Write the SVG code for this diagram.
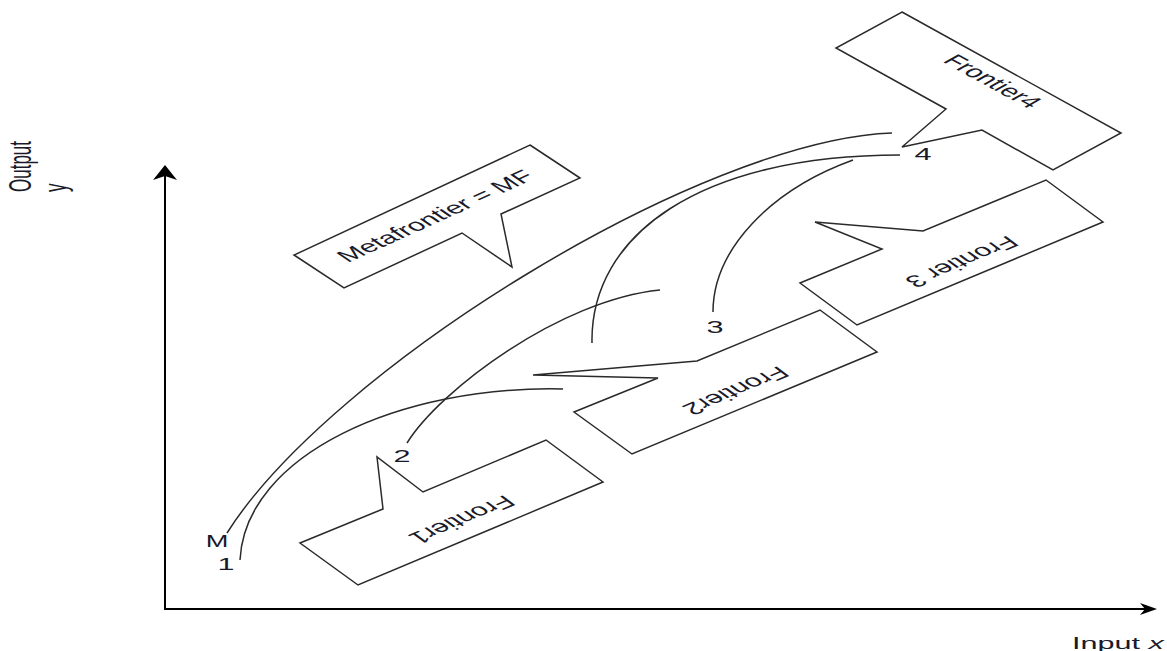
<svg xmlns="http://www.w3.org/2000/svg" width="1167" height="651" viewBox="0 0 1167 651">
<style>
.shape{fill:#fff;stroke:#2a2a2a;stroke-width:1.5;stroke-linejoin:miter}
.curve{fill:none;stroke:#2a2a2a;stroke-width:1.5}
.axis{fill:none;stroke:#000;stroke-width:2}
.head{fill:#000;stroke:none}
text{font-family:"Liberation Sans",Arial,sans-serif;font-size:17px;fill:#1a1a2a}
.c{text-anchor:middle}
</style>
<rect width="1167" height="651" fill="#fff"/>
<g id="axes">
<line class="axis" x1="165" y1="609" x2="165" y2="172"/>
<path class="head" d="M165,165 L177,180 L165,176 L153,180 Z"/>
<line class="axis" x1="164" y1="609" x2="1148" y2="609"/>
<path class="head" d="M1157,609 L1140,615 L1145,609 L1140,603 Z"/>
<text transform="matrix(0,-1,1.8,0,31,192)">Output</text>
<text transform="matrix(0,-1,1.8,0,66,192)">y</text>
<text transform="matrix(1.8,0,0,1,1072,649)">Input <tspan font-style="italic">x</tspan></text>
</g>
<g id="connectors">
<path class="curve" d="M227,533 C330,370 700,140 892,133"/>
<path class="curve" d="M240,560 C245,455 400,385 563,389"/>
<path class="curve" d="M407,443 C440,390 560,300 660,290"/>
<path class="curve" d="M592,343 C590,235 700,155 900,155"/>
<path class="curve" d="M713,312 C713,250 770,190 853,160"/>
</g>
<g id="metafrontier">
<polygon class="shape" points="530,145 580,178 501,214 512,267 462,233 344,288 294,255"/>
<text class="c" transform="matrix(1.3988,-0.6293,1.1327,0.7771,435,216)" y="6">Metafrontier = MF</text>
</g>
<g id="frontier4">
<polygon class="shape" points="902,12 1121,133 1053,170 982,130 902,147 946,109 836,48"/>
<text class="c" transform="matrix(1.2839,0.7009,-1.2616,0.7133,993,81)" y="6">Frontier4</text>
</g>
<g id="frontier3">
<polygon class="shape" points="1046,180 1103,222 857,325 800,283 882,249 815,222 923,231"/>
<text class="c" transform="matrix(-1.4375,0.6018,-1.0832,-0.7986,962,262)" y="6">Frontier 3</text>
</g>
<g id="frontier2">
<polygon class="shape" points="820,310 877,352 632,454 574,412 658,378 533,375 697,361"/>
<text class="c" transform="matrix(-1.4375,0.6018,-1.0832,-0.7986,736,391)" y="6">Frontier2</text>
</g>
<g id="frontier1">
<polygon class="shape" points="546,440 603,482 358,585 300,543 383,509 377,457 423,492"/>
<text class="c" transform="matrix(-1.4375,0.6018,-1.0832,-0.7986,462,520)" y="6">Frontier1</text>
</g>
<g id="labels">
<text class="c" transform="matrix(1.6,0,0,1,217,547)" font-size="16">M</text>
<text class="c" transform="matrix(1.8,0,0,1,226,570)">1</text>
<text class="c" transform="matrix(1.8,0,0,1,402,462)">2</text>
<text class="c" transform="matrix(1.8,0,0,1,715,333)">3</text>
<text class="c" transform="matrix(1.8,0,0,1,923,160)">4</text>
</g>
</svg>
